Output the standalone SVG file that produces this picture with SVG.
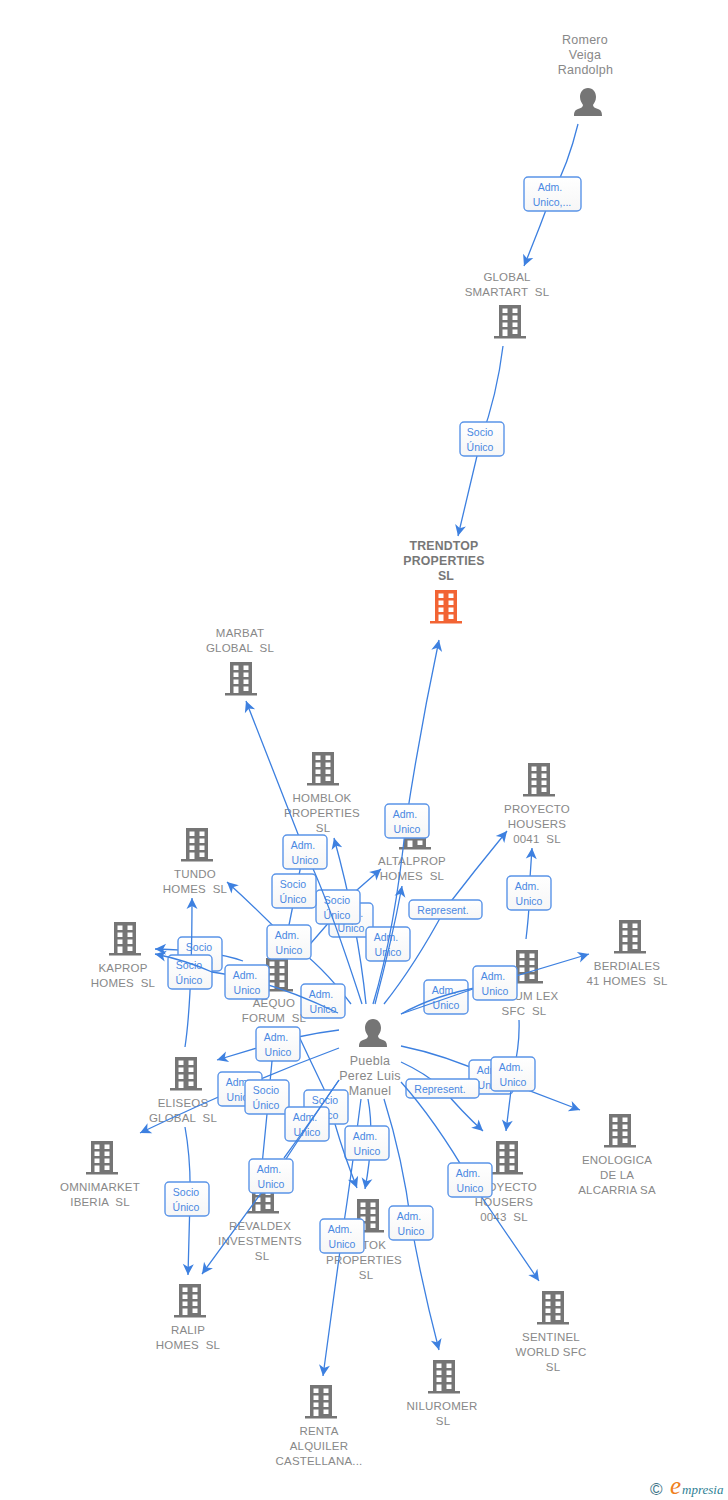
<svg xmlns="http://www.w3.org/2000/svg" width="728" height="1500" viewBox="0 0 728 1500">
<style>
text{font-family:"Liberation Sans",Arial,sans-serif}
.n{font-size:11.5px;fill:#888;text-anchor:middle;white-space:pre;letter-spacing:.2px}
.h{font-size:12.5px;letter-spacing:.25px}
.nb{font-weight:bold;font-size:12.3px;fill:#777}
.e{fill:none;stroke:#3d80e0;stroke-width:1.3;marker-end:url(#a)}
.p{fill:none;stroke:#3d80e0;stroke-width:1.3}
.t{font-size:10.5px;fill:#4a88e2;text-anchor:middle;white-space:pre}
.r{fill:url(#g);stroke:#5a94e8;stroke-width:1.4}
.i{fill:#757575}
</style>
<defs>
<linearGradient id="g" x1="0" y1="0" x2="0" y2="1"><stop offset="0" stop-color="#fff"/><stop offset="1" stop-color="#f6f6f6"/></linearGradient>
<marker id="a" markerUnits="userSpaceOnUse" viewBox="-2 -7 14 14" refX="10" refY="0" markerWidth="14" markerHeight="14" orient="auto"><path d="M10,0L-1,-5.5L2,0L-1,5.5Z" fill="#3d80e0"/></marker>
<g id="bl"><path d="M-11,0H11V31H16V33.5H-16V31H-11ZM-7.5,3.5V8H-2.5V3.5ZM2.5,3.5V8H7.5V3.5ZM-7.5,10.5V15H-2.5V10.5ZM2.5,10.5V15H7.5V10.5ZM-7.5,17.5V22H-2.5V17.5ZM2.5,17.5V22H7.5V17.5ZM-7.5,24.5V31H-2.5V24.5ZM2.5,24.5V29H7.5V24.5Z" fill-rule="evenodd"/></g>
<g id="pe"><path d="M0,0C5,0 8,4 8,9C8,13 6,15 5,17C5,19 7,20 10,21C13,22 14,24 14,28H-14C-14,24 -13,22 -10,21C-7,20 -5,19 -5,17C-6,15 -8,13 -8,9C-8,4 -5,0 0,0Z"/></g>
<rect id="bx" width="44" height="34" rx="4" class="r"/>
<rect id="bw" width="73" height="19" rx="4" class="r"/>
</defs>

<g id="node-romero"><text class="n h" x="585" y="44">Romero</text><text class="n h" x="585" y="59">Veiga</text><text class="n h" x="585.500" y="74">Randolph</text><use href="#pe" x="588" y="88" class="i"/></g>
<g id="node-smartart"><text class="n" x="507" y="281">GLOBAL</text><text class="n" x="507" y="296">SMARTART  SL</text><use href="#bl" x="510" y="305" class="i"/></g>
<g id="node-trendtop"><text class="n nb" x="444" y="550">TRENDTOP</text><text class="n nb" x="444" y="565">PROPERTIES</text><text class="n nb" x="446" y="580">SL</text><use href="#bl" x="446" y="590" fill="#f26434"/></g>
<g id="node-marbat"><text class="n" x="240" y="637">MARBAT</text><text class="n" x="240" y="652">GLOBAL  SL</text><use href="#bl" x="241" y="662" class="i"/></g>
<g id="node-homblok"><use href="#bl" x="323" y="752" class="i"/><text class="n" x="322" y="802">HOMBLOK</text><text class="n" x="322" y="817">PROPERTIES</text><text class="n" x="323" y="832">SL</text></g>
<g id="node-tundo"><use href="#bl" x="197" y="828" class="i"/><text class="n" x="195" y="878">TUNDO</text><text class="n" x="195" y="893">HOMES  SL</text></g>
<g id="node-kaprop"><use href="#bl" x="125" y="922" class="i"/><text class="n" x="123" y="972">KAPROP</text><text class="n" x="123" y="987">HOMES  SL</text></g>
<g id="node-altalprop"><use href="#bl" x="415" y="816" class="i"/><text class="n" x="412" y="865">ALTALPROP</text><text class="n" x="412" y="880">HOMES  SL</text></g>
<g id="node-p0041"><use href="#bl" x="539" y="763" class="i"/><text class="n" x="537" y="813">PROYECTO</text><text class="n" x="537" y="828">HOUSERS</text><text class="n" x="537" y="843">0041  SL</text></g>
<g id="node-aequo"><use href="#bl" x="277" y="958" class="i"/><text class="n" x="274" y="1007">AEQUO</text><text class="n" x="274" y="1022">FORUM  SL</text></g>
<g id="node-forumlex"><use href="#bl" x="527" y="950" class="i"/><text class="n" x="524" y="1000">FORUM LEX</text><text class="n" x="524" y="1015">SFC  SL</text></g>
<g id="node-berdiales"><use href="#bl" x="630" y="920" class="i"/><text class="n" x="627" y="970">BERDIALES</text><text class="n" x="627" y="985">41 HOMES  SL</text></g>
<g id="node-eliseos"><use href="#bl" x="186" y="1057" class="i"/><text class="n" x="183" y="1107">ELISEOS</text><text class="n" x="183" y="1122">GLOBAL  SL</text></g>
<g id="node-omnimarket"><use href="#bl" x="102" y="1141" class="i"/><text class="n" x="100" y="1191">OMNIMARKET</text><text class="n" x="100" y="1206">IBERIA  SL</text></g>
<g id="node-enologica"><use href="#bl" x="620" y="1114" class="i"/><text class="n" x="617" y="1164">ENOLOGICA</text><text class="n" x="617" y="1179">DE LA</text><text class="n" x="617" y="1194">ALCARRIA SA</text></g>
<g id="node-p0043"><use href="#bl" x="507" y="1141" class="i"/><text class="n" x="504" y="1191">PROYECTO</text><text class="n" x="504" y="1206">HOUSERS</text><text class="n" x="504" y="1221">0043  SL</text></g>
<g id="node-revaldex"><use href="#bl" x="263" y="1180" class="i"/><text class="n" x="260" y="1230">REVALDEX</text><text class="n" x="260" y="1245">INVESTMENTS</text><text class="n" x="262" y="1260">SL</text></g>
<g id="node-tok"><use href="#bl" x="368" y="1199" class="i"/><text class="n" x="374" y="1249">TOK</text><text class="n" x="364" y="1264">PROPERTIES</text><text class="n" x="366" y="1279">SL</text></g>
<g id="node-ralip"><use href="#bl" x="190" y="1284" class="i"/><text class="n" x="188" y="1334">RALIP</text><text class="n" x="188" y="1349">HOMES  SL</text></g>
<g id="node-sentinel"><use href="#bl" x="553" y="1291" class="i"/><text class="n" x="551" y="1341">SENTINEL</text><text class="n" x="551" y="1356">WORLD SFC</text><text class="n" x="553" y="1371">SL</text></g>
<g id="node-niluromer"><use href="#bl" x="444" y="1360" class="i"/><text class="n" x="442" y="1410">NILUROMER</text><text class="n" x="443" y="1425">SL</text></g>
<g id="node-renta"><use href="#bl" x="321" y="1385" class="i"/><text class="n" x="319" y="1435">RENTA</text><text class="n" x="319" y="1450">ALQUILER</text><text class="n" x="319" y="1465">CASTELLANA...</text></g>
<g id="node-puebla"><use href="#pe" x="373" y="1019" class="i"/><text class="n h" x="370" y="1065">Puebla</text><text class="n h" x="370" y="1080">Perez Luis</text><text class="n h" x="370" y="1095">Manuel</text></g>

<g id="connectors">
<path class="e" d="M578,124Q568,165 552,194Q538,232 524,266"/>
<g transform="translate(524,177)"><rect width="57" height="34" rx="4" class="r"/><text class="t" x="26" y="14">Adm.</text><text class="t" x="28" y="29">Unico,...</text></g>
<path class="e" d="M503,346Q497,395 481,439Q470,485 458,536"/>
<g transform="translate(460,422)"><use href="#bx"/><text class="t" x="20" y="14">Socio</text><text class="t" x="20" y="29">Único</text></g>

<path class="e" d="M243,961Q212,950 155,949"/>
<g transform="translate(178,937)"><use href="#bx"/><text class="t" x="21" y="14">Socio</text><text class="t" x="21" y="29">Único</text></g>
<path class="e" d="M185,1047Q192,1000 192,898"/>
<g transform="translate(168,955)"><use href="#bx"/><text class="t" x="21" y="14">Socio</text><text class="t" x="21" y="29">Único</text></g>

<path class="e" d="M366,1004Q358,925 334,838"/>
<g transform="translate(329,903)"><use href="#bx"/><text class="t" x="22" y="14">Adm.</text><text class="t" x="22" y="29">Unico</text></g>
<path class="e" d="M305,950L357,890L381,869"/>
<g transform="translate(316,890)"><use href="#bx"/><text class="t" x="21" y="14">Socio</text><text class="t" x="21" y="29">Único</text></g>
<path class="p" d="M284,950L302,860"/>
<g transform="translate(272,874)"><use href="#bx"/><text class="t" x="21" y="14">Socio</text><text class="t" x="21" y="29">Único</text></g>
<path class="e" d="M362,1004Q325,890 305,852L246,701"/>
<g transform="translate(283,835)"><use href="#bx"/><text class="t" x="20" y="14">Adm.</text><text class="t" x="22" y="29">Unico</text></g>
<path class="e" d="M351,1004Q322,965 289,942Q258,910 227,882"/>
<g transform="translate(267,925)"><use href="#bx"/><text class="t" x="20" y="14">Adm.</text><text class="t" x="22" y="29">Unico</text></g>
<g transform="translate(301,984)"><use href="#bx"/><text class="t" x="20" y="14">Adm.</text><text class="t" x="22" y="29">Unico</text></g>
<path class="e" d="M338,1013Q270,980 212,972Q185,960 155,954"/>
<g transform="translate(225,965)"><use href="#bx"/><text class="t" x="20" y="14">Adm.</text><text class="t" x="22" y="29">Unico</text></g>

<g transform="translate(366,927)"><use href="#bx"/><text class="t" x="20" y="14">Adm.</text><text class="t" x="22" y="29">Unico</text></g>
<path class="e" d="M375,1004Q392,940 402,886"/>
<path class="e" d="M373,1004Q395,930 406,822Q420,730 439,640"/>
<g transform="translate(385,804)"><use href="#bx"/><text class="t" x="20" y="14">Adm.</text><text class="t" x="22" y="29">Unico</text></g>
<path class="e" d="M384,1004Q415,965 445,909Q475,870 507,831"/>
<g transform="translate(409,900)"><use href="#bw"/><text class="t" x="34" y="14">Represent.</text></g>
<path class="e" d="M526,939Q530,905 529,893L532,848"/>
<g transform="translate(507,876)"><use href="#bx"/><text class="t" x="20" y="14">Adm.</text><text class="t" x="22" y="29">Unico</text></g>
<g transform="translate(424,980)"><use href="#bx"/><text class="t" x="20" y="14">Adm.</text><text class="t" x="22" y="29">Unico</text></g>
<path class="p" d="M401,1014Q435,995 480,987"/>
<path class="e" d="M401,1014L473,989L589,954"/>
<g transform="translate(473,966)"><use href="#bx"/><text class="t" x="20" y="14">Adm.</text><text class="t" x="22" y="29">Unico</text></g>

<path class="e" d="M401,1046Q445,1055 491,1076L580,1110"/>
<g transform="translate(469,1060)"><use href="#bx"/><text class="t" x="20" y="14">Adm.</text><text class="t" x="22" y="29">Unico</text></g>
<path class="e" d="M519,1020Q520,1045 513,1074L506,1131"/>
<g transform="translate(491,1057)"><use href="#bx"/><text class="t" x="20" y="14">Adm.</text><text class="t" x="22" y="29">Unico</text></g>
<path class="e" d="M401,1062Q425,1073 442,1088Q462,1112 483,1131"/>
<g transform="translate(406,1079)"><use href="#bw"/><text class="t" x="34" y="14">Represent.</text></g>
<path class="e" d="M401,1082Q435,1120 470,1180L539,1281"/>
<g transform="translate(448,1163)"><use href="#bx"/><text class="t" x="20" y="14">Adm.</text><text class="t" x="22" y="29">Unico</text></g>
<path class="e" d="M384,1099Q403,1160 411,1223Q422,1285 439,1350"/>
<g transform="translate(389,1206)"><use href="#bx"/><text class="t" x="20" y="14">Adm.</text><text class="t" x="22" y="29">Unico</text></g>
<path class="e" d="M361,1099Q352,1170 342,1236L323,1376"/>
<path class="e" d="M368,1099Q375,1135 365,1189"/>
<g transform="translate(345,1126)"><use href="#bx"/><text class="t" x="20" y="14">Adm.</text><text class="t" x="22" y="29">Unico</text></g>
<g transform="translate(320,1219)"><use href="#bx"/><text class="t" x="20" y="14">Adm.</text><text class="t" x="22" y="29">Unico</text></g>

<path class="e" d="M339,1030Q298,1035 257,1048L217,1060"/>
<path class="p" d="M296,1030Q310,1060 324,1089"/>
<g transform="translate(256,1027)"><use href="#bx"/><text class="t" x="20" y="14">Adm.</text><text class="t" x="22" y="29">Unico</text></g>
<path class="e" d="M339,1048Q240,1085 140,1133"/>
<g transform="translate(218,1072)"><use href="#bx"/><text class="t" x="20" y="14">Adm.</text><text class="t" x="22" y="29">Unico</text></g>
<path class="p" d="M272,1061L267,1114L262,1165"/>
<g transform="translate(245,1080)"><use href="#bx"/><text class="t" x="21" y="14">Socio</text><text class="t" x="21" y="29">Único</text></g>
<path class="e" d="M324,1089L335,1124Q344,1155 357,1188"/>
<g transform="translate(304,1090)"><use href="#bx"/><text class="t" x="21" y="14">Socio</text><text class="t" x="21" y="29">Único</text></g>
<g transform="translate(285,1107)"><use href="#bx"/><text class="t" x="20" y="14">Adm.</text><text class="t" x="22" y="29">Unico</text></g>
<path class="p" d="M339,1080Q308,1125 284,1158"/>
<path class="e" d="M339,1080Q310,1122 286,1159L202,1274"/>
<g transform="translate(249,1159)"><use href="#bx"/><text class="t" x="20" y="14">Adm.</text><text class="t" x="22" y="29">Unico</text></g>
<path class="e" d="M185,1127Q191,1160 190,1199L188,1275"/>
<g transform="translate(165,1182)"><use href="#bx"/><text class="t" x="21" y="14">Socio</text><text class="t" x="21" y="29">Único</text></g>
</g>

<g id="logo">
<text x="650" y="1495" font-size="17" fill="#3d7488">©</text>
<text x="670" y="1494" font-size="25" fill="#f08020" style="font-family:'Liberation Serif',serif;font-style:italic">e</text>
<text x="682" y="1494" font-size="13" fill="#2f7f95" style="font-family:'Liberation Serif',serif;font-style:italic">mpresia</text>
</g>
</svg>
